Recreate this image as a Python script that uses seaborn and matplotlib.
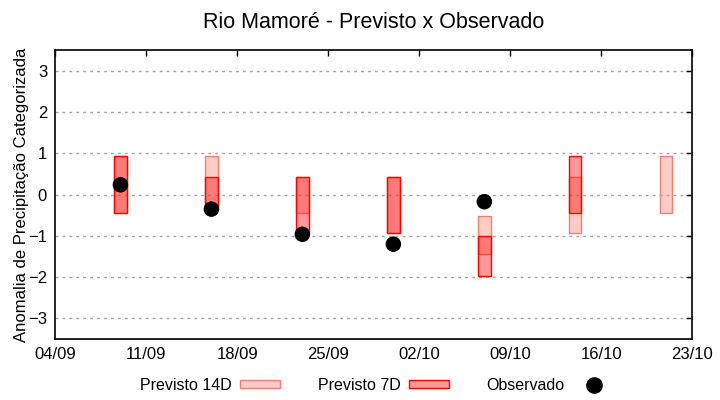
import pandas as pd
import numpy as np
import matplotlib
matplotlib.use("Agg")
import matplotlib.pyplot as plt
import matplotlib.dates as mdates
import seaborn as sns
from matplotlib.patches import Patch
from matplotlib.lines import Line2D

# weekly forecast dates
datas = ["2024-09-09", "2024-09-16", "2024-09-23", "2024-09-30",
         "2024-10-07", "2024-10-14", "2024-10-21"]

# forecast ranges (bottom, top)
prev14_min = [-0.45, -0.33, -0.45, -0.94, -1.45, -0.94, -0.45]
prev14_max = [0.95, 0.95, 0.43, 0.43, -0.52, 0.43, 0.95]
prev7_min = [-0.45, -0.33, -0.94, -0.94, -1.96, -0.45, np.nan]
prev7_max = [0.95, 0.43, 0.43, 0.43, -1.00, 0.95, np.nan]

# observed anomaly
obs_datas = ["2024-09-09", "2024-09-16", "2024-09-23", "2024-09-30", "2024-10-07"]
observado = [0.24, -0.35, -0.96, -1.20, -0.17]

xticks = pd.date_range("2024-09-04", "2024-10-23", freq="7D")

df = pd.DataFrame({
    "data": pd.to_datetime(datas),
    "p14_min": prev14_min, "p14_max": prev14_max,
    "p7_min": prev7_min, "p7_max": prev7_max,
})
df_obs = pd.DataFrame({"data": pd.to_datetime(obs_datas), "obs": observado})

sns.set_style("white")
plt.rcParams["font.family"] = ["Liberation Sans", "DejaVu Sans"]
plt.rcParams["text.color"] = "black"
plt.rcParams["axes.labelcolor"] = "black"

fig = plt.figure(figsize=(7.2, 4.0), dpi=100)
ax = fig.add_axes([0.077, 0.1525, 0.8845, 0.7215])

largura = 0.95
ax.bar(df["data"], df["p14_max"] - df["p14_min"], bottom=df["p14_min"], width=largura,
       color="#fa8072", alpha=0.4, edgecolor="none", zorder=2)
ax.bar(df["data"], df["p14_max"] - df["p14_min"], bottom=df["p14_min"], width=largura,
       facecolor="none", edgecolor="#f08070", linewidth=1.0, zorder=2)
d7 = df.dropna()
ax.bar(d7["data"], d7["p7_max"] - d7["p7_min"], bottom=d7["p7_min"], width=largura,
       color=(1, 0, 0, 0.4), edgecolor="red", linewidth=1.0, zorder=3)

sns.scatterplot(data=df_obs, x="data", y="obs", ax=ax, color="black", s=125,
                edgecolor="none", zorder=4, legend=False)

ax.set_xlim(xticks[0], xticks[-1])
ax.set_ylim(-3.5, 3.5)
ax.set_yticks(range(-3, 4))
ax.set_xticks(xticks)
ax.xaxis.set_major_formatter(mdates.DateFormatter("%d/%m"))
ax.tick_params(direction="in", length=4, width=1, top=True, right=True,
               labelsize=12, colors="black", pad=6)
ax.yaxis.grid(True, linestyle=(0, (2, 3)), color="#a0a0a0", linewidth=1)
ax.xaxis.grid(False)
for s in ax.spines.values():
    s.set_color("black")
    s.set_linewidth(1.2)

ax.set_xlabel("")
ax.set_ylabel("Anomalia de Precipitação Categorizada", fontsize=12)
ax.yaxis.set_label_coords(-0.042, 0.5)
ax.set_title("Rio Mamoré - Previsto x Observado", fontsize=15.5, pad=16)

handles = [
    Patch(facecolor="#fecbc6", edgecolor="#f08070", linewidth=1.0),
    Patch(facecolor="#ff9999", edgecolor="red", linewidth=1.0),
    Line2D([], [], marker="o", color="black", linestyle="none", markersize=11),
]
labels = ["Previsto 14D", "Previsto 7D", "Observado"]
fig.legend(handles, labels, loc="center", bbox_to_anchor=(0.523, 0.037), ncol=3,
           frameon=False, markerfirst=False, fontsize=11.5, handlelength=2.5,
           handleheight=0.45, columnspacing=2.35, handletextpad=0.55)

fig.savefig("out.png", dpi=100)
